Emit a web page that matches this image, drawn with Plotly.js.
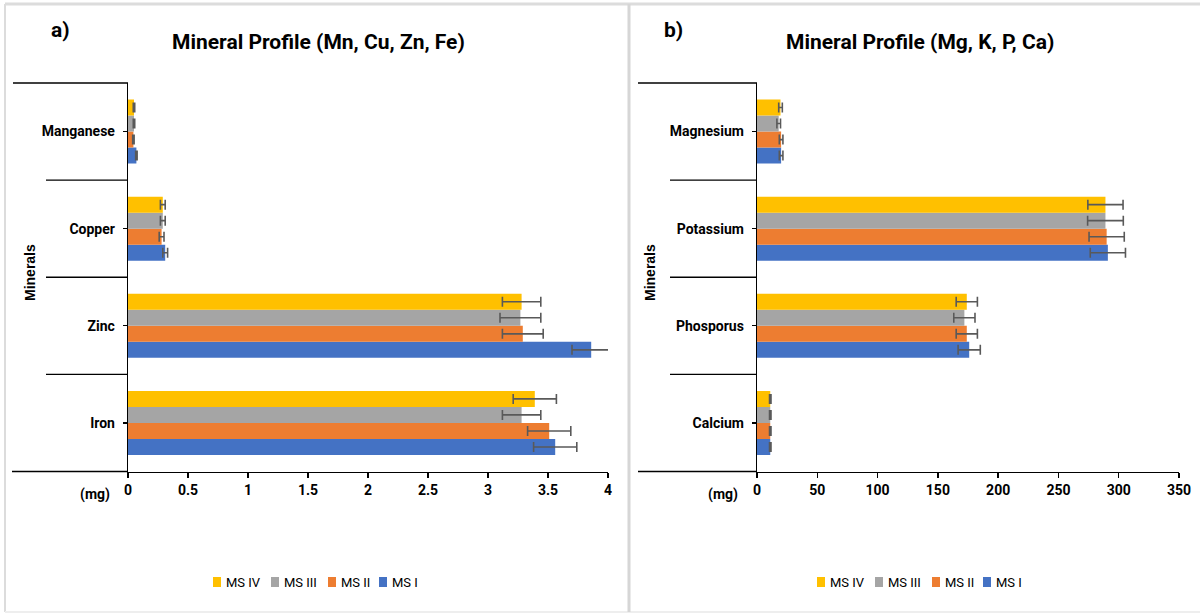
<!DOCTYPE html>
<html>
<head>
<meta charset="utf-8">
<script src="https://cdn.plot.ly/plotly-3.0.1.min.js"></script>
<style>html,body{margin:0;padding:0;background:#fff;}#chart{width:1203px;height:614px;}</style>
</head>
<body>
<div id="chart"></div>
<script>
// ---------- Data ----------
const seriesNames = ['MS I', 'MS II', 'MS III', 'MS IV'];

// Panel a) Mn, Cu, Zn, Fe (bottom to top)
const categoriesA = ['Iron', 'Zinc', 'Copper', 'Manganese'];
const msI_A   = [3.56, 3.86, 0.31, 0.07];
const msII_A  = [3.51, 3.29, 0.28, 0.045];
const msIII_A = [3.28, 3.27, 0.29, 0.05];
const msIV_A  = [3.39, 3.28, 0.29, 0.05];
const errI_A   = [0.18, 0.16, 0.02, 0.006];
const errII_A  = [0.18, 0.17, 0.02, 0.006];
const errIII_A = [0.16, 0.17, 0.02, 0.006];
const errIV_A  = [0.18, 0.16, 0.02, 0.006];

// Panel b) Mg, K, P, Ca (bottom to top)
const categoriesB = ['Calcium', 'Phosporus', 'Potassium', 'Magnesium'];
const msI_B   = [11, 176, 291, 20];
const msII_B  = [11, 174, 290, 20];
const msIII_B = [11, 172, 289, 18];
const msIV_B  = [11, 174, 289, 19.5];
const errI_B   = [0.6, 9.2, 14.6, 1.5];
const errII_B  = [0.6, 8.8, 14.6, 1.5];
const errIII_B = [0.6, 8.8, 14.8, 1.5];
const errIV_B  = [0.6, 8.8, 14.6, 1.5];

const xTicksA = [0, 0.5, 1, 1.5, 2, 2.5, 3, 3.5, 4];
const xTicksB = [0, 50, 100, 150, 200, 250, 300, 350];

const colors = ['#4472C4', '#ED7D31', '#A5A5A5', '#FFC000'];

// ---------- Helpers ----------
const W = 1203, H = 614;
const px = x => x / W;
const py = y => 1 - y / H;
const FONT = 'Roboto, "Noto Sans", sans-serif';

const valsA = [msI_A, msII_A, msIII_A, msIV_A];
const errsA = [errI_A, errII_A, errIII_A, errIV_A];
const valsB = [msI_B, msII_B, msIII_B, msIV_B];
const errsB = [errI_B, errII_B, errIII_B, errIV_B];

const errStyle = (arr) => ({type: 'data', array: arr, visible: true, color: '#595959', thickness: 1.6, width: 5});

const traces = [];
seriesNames.forEach((n, i) => {
  traces.push({
    type: 'bar', orientation: 'h', name: n, showlegend: false,
    y: categoriesA, x: valsA[i], error_x: errStyle(errsA[i]),
    marker: {color: colors[i]}, xaxis: 'x', yaxis: 'y'
  });
});
seriesNames.forEach((n, i) => {
  traces.push({
    type: 'bar', orientation: 'h', name: n, showlegend: false,
    y: categoriesB, x: valsB[i], error_x: errStyle(errsB[i]),
    marker: {color: colors[i]}, xaxis: 'x2', yaxis: 'y2'
  });
});

// plot area geometry (pixels)
const A = {x0: 128, x1: 608, axisLeft: 12, catLeft: 46, topLeft: 13, legStart: 213};
const B = {x0: 757, x1: 1179, axisLeft: 638, catLeft: 670, topLeft: 638, legStart: 817};
const yTop = 83, yBot = 471.5;
const legY = 582;

const axisCommon = {
  showgrid: false, zeroline: false, showline: true, linecolor: '#000', linewidth: 1.3,
  ticks: 'outside', ticklen: 5, tickcolor: '#000', tickwidth: 1.3,
  tickfont: {family: FONT, size: 14, color: '#000'}, fixedrange: true
};

const line = (x0, y0, x1, y1, color, width) => ({
  type: 'line', xref: 'paper', yref: 'paper',
  x0: px(x0), y0: py(y0), x1: px(x1), y1: py(y1),
  line: {color: color || '#000', width: width || 1.3}
});

const catH = (yBot - yTop) / 4;
const shapes = [
  // frame
  line(5, 4, 1200, 4, '#dcdcdc', 3),
  line(5, 4, 5, 612, '#dcdcdc', 2),
  line(5, 612, 1200, 612, '#eeeeee', 2),
  line(629, 4, 629, 612, '#d6d6d6', 3),
  // panel a category lines
  line(A.topLeft, yTop, A.x0, yTop),
  line(A.catLeft, yTop + catH, A.x0, yTop + catH),
  line(A.catLeft, yTop + 2 * catH, A.x0, yTop + 2 * catH),
  line(A.catLeft, yTop + 3 * catH, A.x0, yTop + 3 * catH),
  line(A.axisLeft, yBot, A.x0, yBot),
  // panel b category lines
  line(B.topLeft, yTop, B.x0, yTop),
  line(B.catLeft, yTop + catH, B.x0, yTop + catH),
  line(B.catLeft, yTop + 2 * catH, B.x0, yTop + 2 * catH),
  line(B.catLeft, yTop + 3 * catH, B.x0, yTop + 3 * catH),
  line(B.axisLeft, yBot, B.x0, yBot)
];

const ann = (x, y, text, size, extra) => Object.assign({
  xref: 'paper', yref: 'paper', x: px(x), y: py(y), text: text, showarrow: false,
  font: {family: FONT, size: size, color: '#000'}, xanchor: 'center', yanchor: 'middle'
}, extra || {});

const vFont = {family: 'Liberation Sans, Arial, sans-serif', size: 14, color: '#000'};
const annotations = [
  ann(60, 30, '<b>a)</b>', 21),
  ann(318, 42, '<b>Mineral Profile (Mn, Cu, Zn, Fe)</b>', 21),
  ann(673, 30, '<b>b)</b>', 21),
  ann(920, 42, '<b>Mineral Profile (Mg, K, P, Ca)</b>', 21),
  ann(95, 494, '<b>(mg)</b>', 14),
  ann(723, 494, '<b>(mg)</b>', 14),
  ann(30, 273, '<b>Minerals</b>', 14, {textangle: -90, font: vFont}),
  ann(650, 273, '<b>Minerals</b>', 14, {textangle: -90, font: vFont})
];

// Compact legends (Excel style), order: MS IV, MS III, MS II, MS I
const legOffsets = [0, 58, 115, 166];
[A, B].forEach(P => {
  [3, 2, 1, 0].forEach((si, k) => {
    const x = P.legStart + legOffsets[k];
    shapes.push({
      type: 'rect', xref: 'paper', yref: 'paper',
      x0: px(x), x1: px(x + 8), y0: py(legY + 5), y1: py(legY - 5),
      fillcolor: colors[si], line: {width: 0}
    });
    annotations.push(ann(x + 11, legY, seriesNames[si], 13, {xanchor: 'left'}));
  });
});

const layout = {
  width: W, height: H,
  margin: {l: 0, r: 0, t: 0, b: 0},
  paper_bgcolor: '#fff', plot_bgcolor: '#fff',
  barmode: 'group', bargap: 0.34, bargroupgap: 0,
  showlegend: false,
  xaxis: Object.assign({}, axisCommon, {
    domain: [px(A.x0), px(A.x1)], range: [0, 4], tickvals: xTicksA,
    ticktext: xTicksA.map(v => '<b>' + v + '</b>'), anchor: 'y'
  }),
  yaxis: Object.assign({}, axisCommon, {
    domain: [py(yBot), py(yTop)], range: [-0.5, 3.5], type: 'category',
    categoryorder: 'array', categoryarray: categoriesA, anchor: 'x',
    tickvals: categoriesA, ticktext: categoriesA.map(c => '<b>' + c + '</b>'),
    ticklen: 4, ticklabelstandoff: 5
  }),
  xaxis2: Object.assign({}, axisCommon, {
    domain: [px(B.x0), px(B.x1)], range: [0, 350], tickvals: xTicksB,
    ticktext: xTicksB.map(v => '<b>' + v + '</b>'), anchor: 'y2'
  }),
  yaxis2: Object.assign({}, axisCommon, {
    domain: [py(yBot), py(yTop)], range: [-0.5, 3.5], type: 'category',
    categoryorder: 'array', categoryarray: categoriesB, anchor: 'x2',
    tickvals: categoriesB, ticktext: categoriesB.map(c => '<b>' + c + '</b>'),
    ticklen: 4, ticklabelstandoff: 5
  }),
  shapes: shapes,
  annotations: annotations
};

Plotly.newPlot('chart', traces, layout, {displayModeBar: false, staticPlot: true});
</script>
</body>
</html>
